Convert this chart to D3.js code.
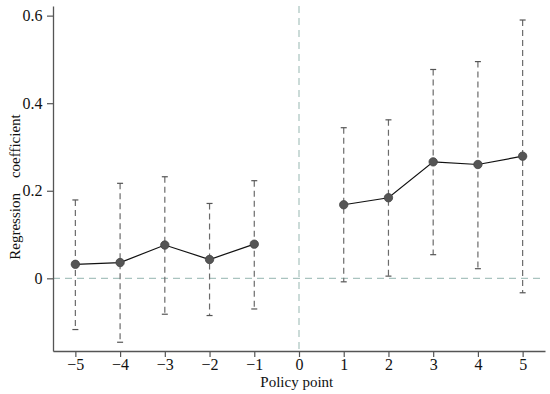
<!DOCTYPE html>
<html>
<head>
<meta charset="utf-8">
<script src="https://cdn.jsdelivr.net/npm/d3@7/dist/d3.min.js"></script>
<style>
  body { margin: 0; background: #fff; }
  svg text { font-family: "Liberation Serif", "Times New Roman", serif; fill: #111; }
</style>
</head>
<body>
<div id="chart"></div>
<script>
const periods = [-5, -4, -3, -2, -1, 1, 2, 3, 4, 5];
const coef =  [0.032, 0.036, 0.076, 0.043, 0.078, 0.168, 0.184, 0.266, 0.260, 0.279];
const upper = [0.179, 0.217, 0.232, 0.171, 0.223, 0.344, 0.362, 0.477, 0.495, 0.590];
const lower = [-0.117, -0.146, -0.082, -0.085, -0.070, -0.008, 0.005, 0.054, 0.022, -0.033];
const xTicks = [-5, -4, -3, -2, -1, 0, 1, 2, 3, 4, 5];
const yTicks = [0, 0.2, 0.4, 0.6];

const width = 550, height = 394;
const margin = { top: 6, right: 5, bottom: 43, left: 53 };

const svg = d3.select("#chart").append("svg")
  .attr("width", width)
  .attr("height", height);

const x = d3.scaleLinear()
  .domain([-5.5, 5.5])
  .range([margin.left, width - margin.right]);

const y = d3.scaleLinear()
  .domain([-0.166, 0.622])
  .range([height - margin.bottom, margin.top]);

// reference lines
svg.append("line")
  .attr("x1", x(-5.5)).attr("x2", x(5.5))
  .attr("y1", y(0)).attr("y2", y(0))
  .attr("stroke", "#a9c3bf").attr("stroke-width", 1.2)
  .attr("stroke-dasharray", "7,5");

svg.append("line")
  .attr("x1", x(0)).attr("x2", x(0))
  .attr("y1", y(0.622)).attr("y2", y(-0.166))
  .attr("stroke", "#a9c3bf").attr("stroke-width", 1.2)
  .attr("stroke-dasharray", "7,5");

const data = periods.map((p, i) => ({ p, c: coef[i], hi: upper[i], lo: lower[i] }));

// error bars
const bars = svg.append("g");
bars.selectAll(".ci")
  .data(data)
  .enter().append("line")
  .attr("x1", d => x(d.p)).attr("x2", d => x(d.p))
  .attr("y1", d => y(d.hi)).attr("y2", d => y(d.lo))
  .attr("stroke", "#6b6b6b").attr("stroke-width", 1.2)
  .attr("stroke-dasharray", "6,4");

["hi", "lo"].forEach(k => {
  bars.selectAll(".cap-" + k)
    .data(data)
    .enter().append("line")
    .attr("x1", d => x(d.p) - 3).attr("x2", d => x(d.p) + 3)
    .attr("y1", d => y(d[k])).attr("y2", d => y(d[k]))
    .attr("stroke", "#555").attr("stroke-width", 1.2);
});

// lines (two segments, before and after policy)
const line = d3.line().x(d => x(d.p)).y(d => y(d.c));
[data.filter(d => d.p < 0), data.filter(d => d.p > 0)].forEach(seg => {
  svg.append("path")
    .datum(seg)
    .attr("d", line)
    .attr("fill", "none")
    .attr("stroke", "#111")
    .attr("stroke-width", 1.2);
});

svg.selectAll(".pt")
  .data(data)
  .enter().append("circle")
  .attr("cx", d => x(d.p))
  .attr("cy", d => y(d.c))
  .attr("r", 4.2)
  .attr("fill", "#555")
  .attr("stroke", "#444")
  .attr("stroke-width", 0.8);

// axes
const xAxis = svg.append("g")
  .attr("transform", `translate(0,${height - margin.bottom})`)
  .call(d3.axisBottom(x).tickValues(xTicks).tickSize(6).tickSizeOuter(0)
    .tickFormat(d => d < 0 ? "\u2212" + Math.abs(d) : d));

const yAxis = svg.append("g")
  .attr("transform", `translate(${margin.left},0)`)
  .call(d3.axisLeft(y).tickValues(yTicks).tickSize(6).tickSizeOuter(0)
    .tickFormat(d => d === 0 ? "0" : d3.format(".1f")(d)));

[xAxis, yAxis].forEach(a => {
  a.select(".domain").attr("stroke", "#555").attr("stroke-width", 1.3);
  a.selectAll(".tick line").attr("stroke", "#555").attr("stroke-width", 1.2);
  a.selectAll(".tick text").attr("font-size", 16).attr("fill", "#111")
    .style("font-family", "'Liberation Serif', serif");
});
xAxis.selectAll(".tick text").attr("dy", "0.6em");
yAxis.selectAll(".tick text").attr("dx", "-0.1em");

// axis labels
svg.append("text")
  .attr("x", x(-0.05))
  .attr("y", 387)
  .attr("text-anchor", "middle")
  .attr("font-size", 15)
  .text("Policy point");

svg.append("text")
  .attr("transform", `translate(20,187) rotate(-90)`)
  .attr("text-anchor", "middle")
  .attr("font-size", 15)
  .style("white-space", "pre")
  .text("Regression    coefficient");
</script>
</body>
</html>
